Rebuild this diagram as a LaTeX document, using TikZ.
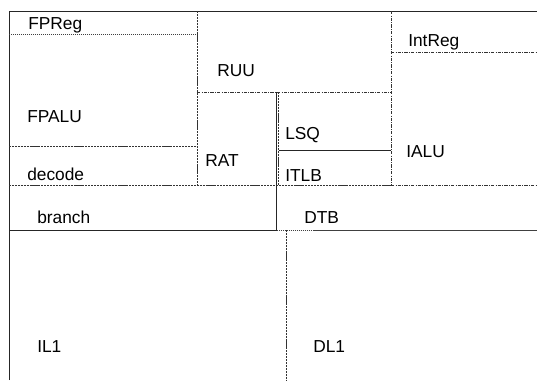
\documentclass[tikz,border=0pt]{standalone}
\usepackage{fontspec}
\setmainfont{Liberation Sans}
\usepackage{tikz}
\usetikzlibrary{positioning}
\tikzset{
  edgeln/.style={line width=0.7pt, black!85},
  dashln/.style={line width=0.7pt, black!80, dash pattern=on 1.6pt off 0.6pt},
  dotln/.style={line width=0.7pt, black!75, dash pattern=on 0.8pt off 0.7pt},
  dashdotln/.style={line width=0.7pt, black!80, dash pattern=on 2.6pt off 0.8pt on 0.8pt off 0.8pt},
  blocklbl/.style={anchor=base west, inner sep=0pt, font=\fontsize{13}{15}\selectfont},
}
\begin{document}
\begin{tikzpicture}[x=0.75pt, y=-0.75pt]
    \useasboundingbox (0,0) rectangle (537,380);
    % outline of the chip
    \draw[edgeln] (9,380) -- (9,11) -- (537,11);
    % upper part
    \draw[dotln] (9,34) -- (197,34);
    \draw[dashln] (197,11) -- (197,185);
    \draw[dashdotln] (197,92) -- (391,92);
    \draw[dashdotln] (391,11) -- (391,185);
    \draw[dashdotln] (391,52) -- (537,52);
    \draw[dashln] (9,146) -- (197,146);
    \draw[edgeln] (276.5,92) -- (276.5,185);
    \draw[dashln] (278.5,92) -- (278.5,185);
    \draw[edgeln] (278.5,150) -- (391,150);
    \draw[dashln] (9,185) -- (391,185);
    \draw[dashdotln] (391,185) -- (537,185);
    % branch / DTB row
    \draw[edgeln] (276.5,185) -- (276.5,230);
    \draw[edgeln] (9,230) -- (276.5,230);
    \draw[dotln] (276.5,230) -- (537,230);
    % caches
    \draw[dashln] (286,230) -- (286,380);
    % labels
    \node[blocklbl] (fpreg) at (28,29) {FPReg};
    \node[blocklbl] (ruu) at (217,76) {RUU};
    \node[blocklbl] (intreg) at (408,46) {IntReg};
    \node[blocklbl] (fpalu) at (27,122) {FPALU};
    \node[blocklbl] (lsq) at (285,139) {LSQ};
    \node[blocklbl] (ialu) at (406,157) {IALU};
    \node[blocklbl] (rat) at (205,166) {RAT};
    \node[blocklbl] (decode) at (27,180) {decode};
    \node[blocklbl] (itlb) at (285,181) {ITLB};
    \node[blocklbl] (branch) at (37,223) {branch};
    \node[blocklbl] (dtb) at (304,223) {DTB};
    \node[blocklbl] (il1) at (37,352) {IL1};
    \node[blocklbl] (dl1) at (313,352) {DL1};
\end{tikzpicture}
\end{document}
